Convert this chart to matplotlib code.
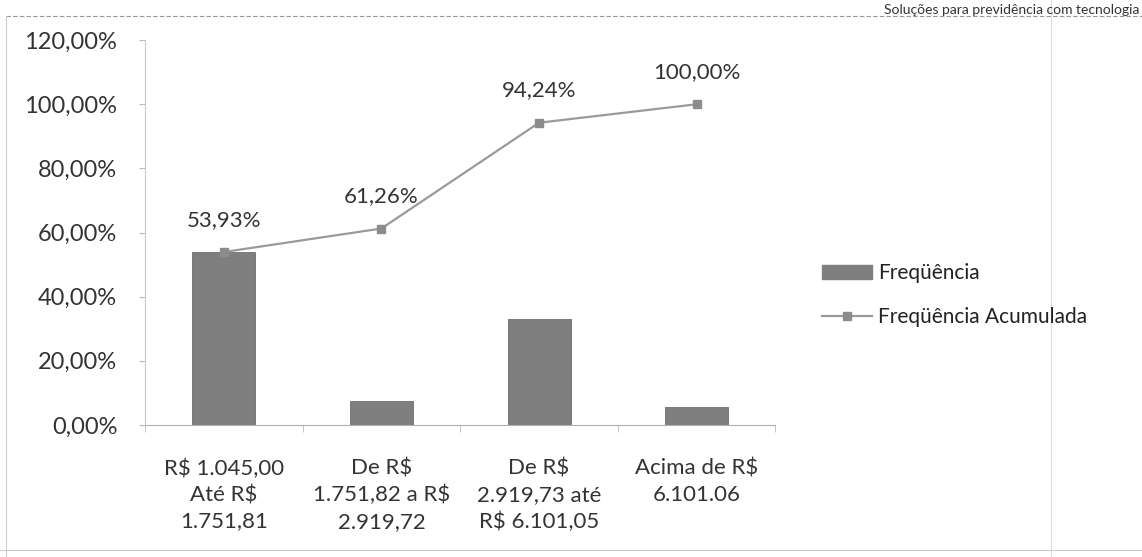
import matplotlib.pyplot as plt
import numpy as np
from matplotlib.lines import Line2D

plt.rcParams['font.family'] = ['Lato', 'DejaVu Sans']

categorias = ["R$ 1.045,00\nAté R$\n1.751,81",
              "De R$\n1.751,82 a R$\n2.919,72",
              "De R$\n2.919,73 até\nR$ 6.101,05",
              "Acima de R$\n6.101.06"]
frequencia = [53.93, 7.33, 32.98, 5.76]
acumulada = [53.93, 61.26, 94.24, 100.00]
rotulos_acum = ["53,93%", "61,26%", "94,24%", "100,00%"]
yticks = [0, 20, 40, 60, 80, 100, 120]
ytick_labels = ["0,00%", "20,00%", "40,00%", "60,00%", "80,00%", "100,00%", "120,00%"]

fig = plt.figure(figsize=(11.42, 5.57), dpi=100)
ax = fig.add_axes([0.127, 0.237, 0.552, 0.691])

x = np.arange(len(categorias))
ax.bar(x, frequencia, width=0.4, color="#7f7f7f", edgecolor="#6e6e6e", linewidth=0.6,
       label="Freqüência")
ax.plot(x, acumulada, color="#9a9a9a", linewidth=1.6, marker="s", markersize=6,
        markerfacecolor="#8c8c8c", markeredgecolor="#8c8c8c", label="Freqüência Acumulada")

for xi, yi, txt in zip(x, acumulada, rotulos_acum):
    ax.annotate(txt, (xi, yi), xytext=(0, 16), textcoords="offset points",
                ha="center", va="bottom", fontsize=16, color="#333333")

ax.set_xlim(-0.5, len(categorias) - 0.5)
ax.set_ylim(0, 120)
ax.set_yticks(yticks)
ax.set_yticklabels(ytick_labels, fontsize=17, color="#333333")
ax.set_xticks(x)
ax.set_xticklabels(categorias, fontsize=16, color="#333333", linespacing=1.4)
ax.set_xticks(np.arange(len(categorias) + 1) - 0.5, minor=True)
ax.tick_params(axis="x", which="major", length=0, pad=24)
ax.tick_params(axis="x", which="minor", length=5, color="#bbbbbb")
ax.tick_params(axis="y", length=4, color="#bbbbbb", pad=16)

for s in ["top", "right"]:
    ax.spines[s].set_visible(False)
ax.spines["left"].set_color("#c8c8c8")
ax.spines["bottom"].set_color("#b0b0b0")

handles = [plt.Rectangle((0, 0), 1, 1, color="#7f7f7f"),
           Line2D([], [], color="#9a9a9a", linewidth=1.6, marker="s", markersize=6,
                  markerfacecolor="#8c8c8c", markeredgecolor="#8c8c8c")]
fig.legend(handles, ["Freqüência", "Freqüência Acumulada"], loc="center left",
           bbox_to_anchor=(0.703, 0.47), frameon=False, fontsize=15,
           handlelength=2.4, handletextpad=0.3, labelspacing=1.15, labelcolor="#222222")

# cabeçalho e bordas da digitalização
fig.text(0.998, 0.993, "Soluções para previdência com tecnologia", fontsize=10,
         color="#333333", ha="right", va="top")
fig.add_artist(Line2D([0.005, 1.0], [0.972, 0.972], color="#999999", linewidth=0.8,
                      linestyle=(0, (4, 2))))
fig.add_artist(Line2D([0.005, 0.005], [0.0, 0.972], color="#cccccc", linewidth=0.8))
fig.add_artist(Line2D([0.92, 0.92], [0.0, 1.0], color="#dddddd", linewidth=0.8))
fig.add_artist(Line2D([0.0, 1.0], [0.012, 0.012], color="#cccccc", linewidth=0.8))

fig.savefig("out.png", dpi=100)
